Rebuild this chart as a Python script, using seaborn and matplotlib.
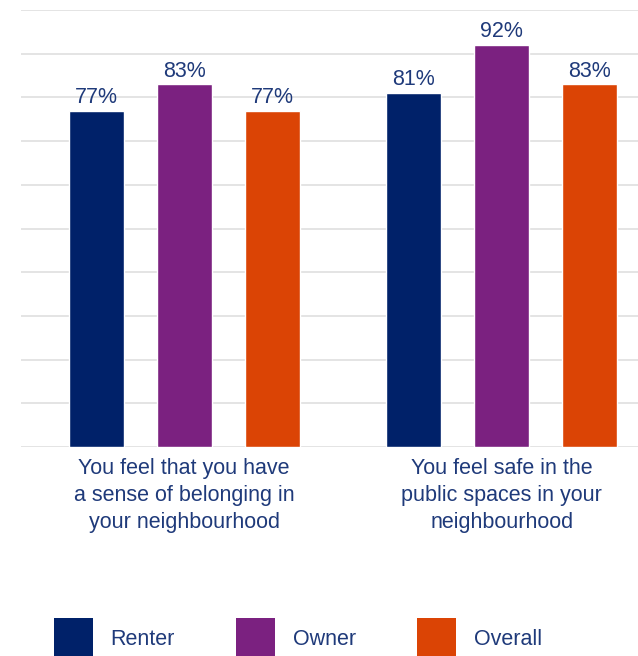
import matplotlib
matplotlib.use("Agg")
import matplotlib.pyplot as plt
import seaborn as sns
import pandas as pd
from matplotlib.patches import Patch

# Survey results (% agreeing)
categories = [
    "You feel that you have\na sense of belonging in\nyour neighbourhood",
    "You feel safe in the\npublic spaces in your\nneighbourhood",
]
groups = ["Renter", "Owner", "Overall"]
renter = [77, 81]
owner = [83, 92]
overall = [77, 83]

colors = ["#002169", "#7b2180", "#db4405"]
text_color = "#1f3a7a"

df = pd.DataFrame({
    "category": categories * 3,
    "group": [g for g in groups for _ in categories],
    "value": renter + owner + overall,
})

sns.set_theme(style="white")
plt.rcParams["font.family"] = ["Liberation Sans", "DejaVu Sans"]

fig = plt.figure(figsize=(6.38, 6.56), dpi=100)
ax = fig.add_axes([21 / 638, 209 / 656, 617 / 638, 437 / 656])

sns.barplot(
    data=df, x="category", y="value", hue="group",
    order=categories, hue_order=groups, palette=colors,
    width=0.831, gap=0.375, saturation=1, legend=False, ax=ax,
)

ax.set_ylim(0, 100)
ax.set_xlim(-0.514, 1.429)
ax.set_yticks(range(0, 101, 10))
ax.set_yticklabels([])
ax.tick_params(axis="y", length=0)
ax.tick_params(axis="x", length=0, pad=8)
for lab in ax.get_xticklabels():
    lab.set_fontsize(15.5)
    lab.set_color(text_color)
    lab.set_linespacing(1.38)
ax.set_xlabel("")
ax.set_ylabel("")
ax.grid(axis="y", color="#dcdcdc", linewidth=1.1)
ax.set_axisbelow(True)
for s in ax.spines.values():
    s.set_visible(False)

for container in ax.containers:
    ax.bar_label(container, labels=[f"{v:.0f}%" for v in container.datavalues],
                 padding=2, fontsize=15.5, color=text_color)

handles = [Patch(facecolor=c, edgecolor="none") for c in colors]
fig.legend(
    handles, groups, loc="center left", bbox_to_anchor=(54 / 638, 1 - 638 / 656),
    ncol=3, frameon=False, labelcolor=text_color, fontsize=15.5,
    handlelength=1.81, handleheight=2.48, handletextpad=0.82,
    columnspacing=2.84, borderpad=0, borderaxespad=0,
)

fig.savefig("out.png", dpi=100)
